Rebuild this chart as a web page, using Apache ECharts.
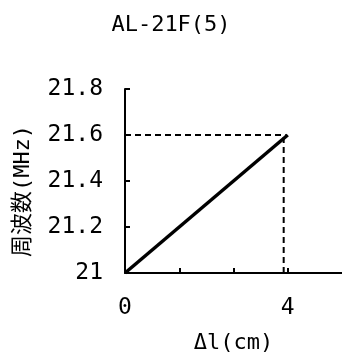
<!DOCTYPE html>
<html><head><meta charset="utf-8">
<script src="https://cdn.jsdelivr.net/npm/echarts@6/dist/echarts.min.js"></script>
<style>html,body{margin:0;padding:0;background:#fff}#c{width:342px;height:359px}</style>
</head><body><div id="c"></div>
<script>
const titleText = 'AL-21F(5)';
const xName = 'Δl(cm)';
const yName = '周波数(MHz)';
const xData = [0, 4];
const yData = [21, 21.6];
const guideX = [3.9, 3.9];
const guideYv = [21, 21.6];
const guideHx = [0, 3.95];
const guideHy = [21.6, 21.6];
const xLabelsShown = [0, 4];

const FONT = '"DejaVu Sans Mono", "Noto Sans CJK JP", monospace';
const chart = echarts.init(document.getElementById('c'));
chart.setOption({
  backgroundColor: '#fff',
  animation: false,
  title: { text: titleText, left: 'center', top: 9,
    textStyle: { fontFamily: FONT, fontSize: 22, fontWeight: 'normal', color: '#000' } },
  grid: { left: 125, right: -3, top: 89, bottom: 86, containLabel: false },
  xAxis: {
    type: 'value', min: 0, max: 16/3, interval: 4/3,
    name: xName, nameLocation: 'middle', nameGap: 59,
    nameTextStyle: { fontFamily: FONT, fontSize: 22, color: '#000' },
    axisLine: { lineStyle: { color: '#000', width: 2 } },
    axisTick: { inside: true, length: 5, lineStyle: { color: '#000', width: 2 } },
    axisLabel: { margin: 24, fontFamily: FONT, fontSize: 23, color: '#000', showMaxLabel: false,
      formatter: v => xLabelsShown.some(t => Math.abs(t - v) < 1e-6) ? String(Math.round(v)) : '' },
    splitLine: { show: false }
  },
  yAxis: {
    type: 'value', min: 21, max: 21.8, interval: 0.2,
    name: yName, nameLocation: 'middle', nameGap: 91, nameRotate: 90,
    nameTextStyle: { fontFamily: FONT, fontSize: 22, color: '#000', padding: [0, 20, 0, 0] },
    axisLine: { show: true, lineStyle: { color: '#000', width: 2 } },
    axisTick: { show: true, inside: true, length: 5, lineStyle: { color: '#000', width: 2 } },
    axisLabel: { margin: 22, fontFamily: FONT, fontSize: 23, color: '#000' },
    splitLine: { show: false }
  },
  series: [
    { type: 'line', data: guideHx.map((x, i) => [x, guideHy[i]]), symbol: 'none',
      lineStyle: { color: '#000', width: 2, type: [6, 4] }, z: 1 },
    { type: 'line', data: guideX.map((x, i) => [x, guideYv[i]]), symbol: 'none',
      lineStyle: { color: '#000', width: 2, type: [6, 4] }, z: 1 },
    { type: 'line', data: xData.map((x, i) => [x, yData[i]]), symbol: 'none',
      lineStyle: { color: '#000', width: 3.5 }, z: 3 }
  ]
});
</script></body></html>
